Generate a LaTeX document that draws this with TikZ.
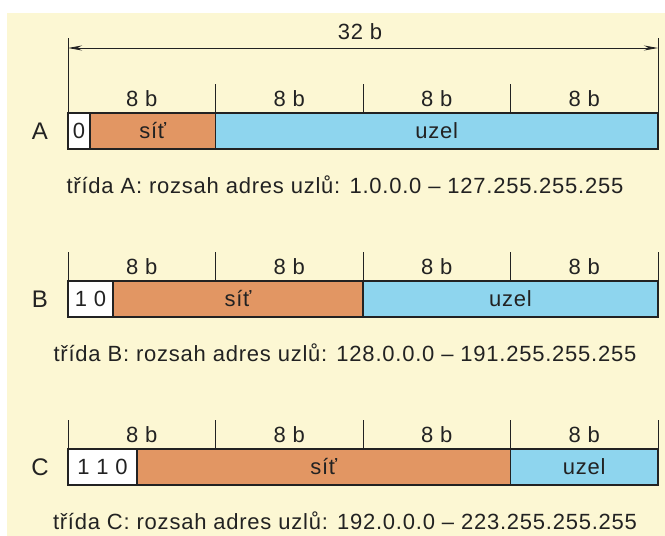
\documentclass[tikz,border=0pt]{standalone}
\usepackage{fontspec}
\setmainfont[LetterSpace=3.5]{Liberation Sans}
\usetikzlibrary{arrows.meta}
\definecolor{paper}{HTML}{FCF7D3}
\definecolor{netpart}{HTML}{E29663}
\definecolor{hostpart}{HTML}{8ED5EE}
\definecolor{ink}{HTML}{222222}

% one address class: letter, top of the field, prefix bits, end of prefix,
% end of network part, address range
\newcommand\classrow[6]{%
  \pgfmathsetmacro\yt{#2}%
  \pgfmathsetmacro\yb{#2+36}%
  \pgfmathsetmacro\ym{#2+18}%
  \pgfmathsetmacro\ylab{#2-14}%
  \pgfmathsetmacro\ytick{#2-29}%
  \pgfmathsetmacro\ycap{#2+72}%
  \fill[white]    (68,\yt) rectangle (#4,\yb);
  \fill[netpart]  (#4,\yt) rectangle (#5,\yb);
  \fill[hostpart] (#5,\yt) rectangle (658,\yb);
  \draw[cell] (68,\yt) rectangle (658,\yb);
  \draw[cell] (#4,\yt) -- (#4,\yb);
  \draw[cell] (#5,\yt) -- (#5,\yb);
  \foreach \bx in {215.5,363,510.5}{\draw[tickline] (\bx,\ytick) -- (\bx,\yt);}
  \foreach \bx/\k in {141.75/1,289.25/2,436.75/3,584.25/4}{\node[txt] (bits-#1-\k) at (\bx,\ylab) {8 b};}
  \node[txt,font=\fontsize{24}{28}\selectfont] (cls-#1) at (40,\ym) {#1};
  \node[txt] (pre-#1) at ({(68+#4)/2},\ym) {#3};
  \node[txt] (net-#1) at ({(#4+#5)/2},\ym) {síť};
  \node[txt] (host-#1) at ({(#5+658)/2},\ym) {uzel};
  \node[txt] (range-#1) at (345,\ycap) {třída #1: rozsah adres uzlů: #6};
}

\begin{document}
\begin{tikzpicture}[x=1pt,y=-1pt,
  txt/.style={inner sep=0pt,text=ink,font=\fontsize{22}{26}\selectfont},
  cell/.style={draw=ink,line width=1.3pt},
  tickline/.style={draw=ink,line width=0.8pt},
  span/.style={draw=ink,line width=0.8pt,{Stealth[length=14pt,width=5pt]}-{Stealth[length=14pt,width=5pt]}}]
\useasboundingbox (0,0) rectangle (665,536);
\fill[paper] (7,13) rectangle (665,536);

% overall width of the address
\coordinate (wl) at (68,38);
\coordinate (wr) at (658,38);
\coordinate (al) at (68,48);
\coordinate (ar) at (658,48);
\draw[tickline] (wl) -- (68,113);
\draw[tickline] (wr) -- (658,113);
\draw[span] (al) -- (ar);
\node[txt] (total) at (360,32) {32 b};

\classrow{A}{113}{0}{90}{215.5}{1.0.0.0 – 127.255.255.255}
\classrow{B}{281}{1 0}{113}{363}{128.0.0.0 – 191.255.255.255}
\classrow{C}{449}{1 1 0}{137}{510.5}{192.0.0.0 – 223.255.255.255}

\draw[tickline] (68,252) -- (68,281);
\draw[tickline] (658,252) -- (658,281);
\draw[tickline] (68,420) -- (68,449);
\draw[tickline] (658,420) -- (658,449);
\end{tikzpicture}
\end{document}
